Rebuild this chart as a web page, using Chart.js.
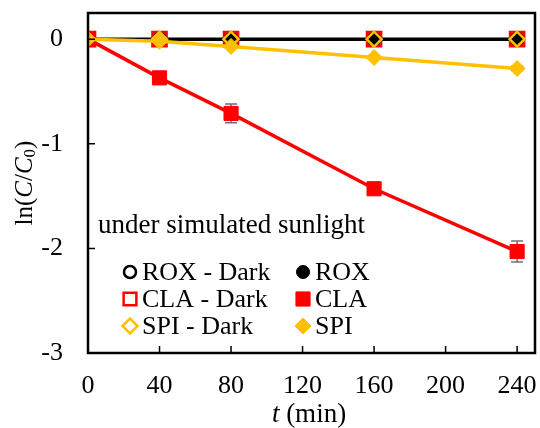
<!DOCTYPE html>
<html>
<head>
<meta charset="utf-8">
<script src="https://cdn.jsdelivr.net/npm/chart.js@4/dist/chart.umd.min.js"></script>
<style>
  html, body { margin: 0; padding: 0; background: #fff; }
  #wrap { width: 540px; height: 428px; }
</style>
</head>
<body>
<div id="wrap"><canvas id="c" width="540" height="428"></canvas></div>
<script>
// ── Data ──────────────────────────────────────────────────────────────────────
const times       = [0, 40, 80, 160, 240];
const roxDark     = [0, 0, 0, 0, 0];
const roxLight    = [0, 0, 0, 0, 0];
const claDark     = [0, 0, 0, 0, 0];
const claLight    = [0, -0.37, -0.71, -1.43, -2.03];
const claLightErr = [0, 0.02, 0.09, 0.05, 0.10];
const spiDark     = [0, 0, 0, 0, 0];
const spiLight    = [0, -0.02, -0.07, -0.175, -0.28];
const spiLightErr = [0, 0.01, 0.01, 0.01, 0.02];

const xTicks = [0, 40, 80, 120, 160, 200, 240];
const yTicks = [-3, -2, -1, 0];

const RED = '#ff0000', YEL = '#ffc000', BLK = '#000000';
const SERIF = "'Liberation Serif', 'Times New Roman', serif";

Chart.defaults.font.family = SERIF;
Chart.defaults.color = '#000';

const pts = arr => arr.map((v, i) => ({ x: times[i], y: v }));

// ── Plugin: error bars, frame, inward ticks, titles, legend ──────────────────
const decor = {
  id: 'decor',
  beforeDatasetsDraw(chart) {
    const { ctx, scales: { x, y } } = chart;
    ctx.save();
    ctx.strokeStyle = '#707070';
    ctx.lineWidth = 1.5;
    [[claLight, claLightErr], [spiLight, spiLightErr]].forEach(([vals, errs]) => {
      vals.forEach((v, i) => {
        if (!errs[i]) return;
        const px = x.getPixelForValue(times[i]);
        const top = y.getPixelForValue(v + errs[i]);
        const bot = y.getPixelForValue(v - errs[i]);
        ctx.beginPath();
        ctx.moveTo(px, top); ctx.lineTo(px, bot);
        ctx.moveTo(px - 6, top); ctx.lineTo(px + 6, top);
        ctx.moveTo(px - 6, bot); ctx.lineTo(px + 6, bot);
        ctx.stroke();
      });
    });
    ctx.restore();
  },
  afterDraw(chart) {
    const { ctx, chartArea: a, scales: { x, y } } = chart;
    ctx.save();
    // frame
    ctx.strokeStyle = '#000';
    ctx.lineWidth = 2.5;
    ctx.strokeRect(a.left, a.top, a.right - a.left, a.bottom - a.top);
    // inward tick marks
    ctx.lineWidth = 1.5;
    ctx.beginPath();
    xTicks.forEach(t => {
      const px = x.getPixelForValue(t);
      ctx.moveTo(px, a.bottom); ctx.lineTo(px, a.bottom - 7);
    });
    yTicks.forEach(t => {
      const py = y.getPixelForValue(t);
      ctx.moveTo(a.left, py); ctx.lineTo(a.left + 7, py);
    });
    ctx.stroke();

    ctx.fillStyle = '#000';
    ctx.textBaseline = 'middle';

    // x title: t (min)
    const f = `27px ${SERIF}`, fi = `italic 27px ${SERIF}`;
    ctx.font = fi; const wt = ctx.measureText('t').width;
    ctx.font = f;  const wr = ctx.measureText(' (min)').width;
    let sx = 309 - (wt + wr) / 2;
    ctx.textAlign = 'left';
    ctx.font = fi; ctx.fillText('t', sx, 415);
    ctx.font = f;  ctx.fillText(' (min)', sx + wt, 415);

    // y title: ln(C/C0)
    const g = `25px ${SERIF}`, gi = `italic 25px ${SERIF}`;
    const parts = [
      ['ln(', g, 0], ['C', gi, 0], ['/', g, 0], ['C', gi, 0],
      ['0', `17px ${SERIF}`, 6], [')', g, 0],
    ];
    let total = 0;
    parts.forEach(p => { ctx.font = p[1]; total += ctx.measureText(p[0]).width; });
    ctx.translate(25, 183);
    ctx.rotate(-Math.PI / 2);
    let ox = -total / 2;
    parts.forEach(p => {
      ctx.font = p[1];
      ctx.fillText(p[0], ox, p[2]);
      ox += ctx.measureText(p[0]).width;
    });
    ctx.setTransform(1, 0, 0, 1, 0, 0);

    // annotation + legend
    ctx.font = f;
    ctx.fillText('under simulated sunlight', 98, 226);

    const entries = [
      ['ROX - Dark', 130, 272, { pointStyle: 'circle', radius: 6, borderWidth: 2.5, borderColor: BLK, backgroundColor: '#fff' }],
      ['ROX',        303, 272, { pointStyle: 'circle', radius: 6.5, borderWidth: 1, borderColor: BLK, backgroundColor: BLK }],
      ['CLA - Dark', 130, 299, { pointStyle: 'rect', radius: 9, borderWidth: 2.5, borderColor: RED, backgroundColor: '#fff' }],
      ['CLA',        303, 299, { pointStyle: 'rect', radius: 10, borderWidth: 1, borderColor: RED, backgroundColor: RED }],
      ['SPI - Dark', 130, 326, { pointStyle: 'rectRot', radius: 7.5, borderWidth: 2.5, borderColor: YEL, backgroundColor: '#fff' }],
      ['SPI',        303, 326, { pointStyle: 'rectRot', radius: 8, borderWidth: 1, borderColor: YEL, backgroundColor: YEL }],
    ];
    entries.forEach(([label, mx, my, opts]) => {
      ctx.fillStyle = opts.backgroundColor;
      ctx.strokeStyle = opts.borderColor;
      ctx.lineWidth = opts.borderWidth;
      Chart.helpers.drawPoint(ctx, { ...opts, rotation: 0 }, mx, my);
      ctx.fillStyle = '#000';
      ctx.font = `26px ${SERIF}`;
      ctx.fillText(label, mx + 12, my + 1);
    });
    ctx.restore();
  },
};

// ── Chart ─────────────────────────────────────────────────────────────────────
new Chart(document.getElementById('c'), {
  type: 'scatter',
  plugins: [decor],
  data: {
    datasets: [
      { label: 'SPI', data: pts(spiLight), order: 0, showLine: true,
        borderColor: YEL, borderWidth: 3.5, pointStyle: 'rectRot', pointRadius: 8,
        pointBackgroundColor: YEL, pointBorderColor: YEL, pointBorderWidth: 1 },
      { label: 'CLA', data: pts(claLight), order: 1, showLine: true,
        borderColor: RED, borderWidth: 3.5, pointStyle: 'rect', pointRadius: 10,
        pointBackgroundColor: RED, pointBorderColor: RED, pointBorderWidth: 1 },
      { label: 'SPI - Dark', data: pts(spiDark), order: 2, showLine: false,
        pointStyle: 'rectRot', pointRadius: 7.5,
        pointBackgroundColor: 'rgba(0,0,0,0)', pointBorderColor: YEL, pointBorderWidth: 2.5 },
      { label: 'ROX', data: pts(roxLight), order: 3, showLine: true,
        borderColor: BLK, borderWidth: 3.5, pointStyle: 'circle', pointRadius: 6.5,
        pointBackgroundColor: BLK, pointBorderColor: BLK, pointBorderWidth: 1 },
      { label: 'ROX - Dark', data: pts(roxDark), order: 4, showLine: false,
        pointStyle: 'circle', pointRadius: 6,
        pointBackgroundColor: 'rgba(0,0,0,0)', pointBorderColor: BLK, pointBorderWidth: 2.5 },
      { label: 'CLA - Dark', data: pts(claDark), order: 5, showLine: false,
        pointStyle: 'rect', pointRadius: 10,
        pointBackgroundColor: RED, pointBorderColor: RED, pointBorderWidth: 2.5 },
    ],
  },
  options: {
    responsive: false,
    animation: false,
    layout: { autoPadding: false, padding: { top: 13, right: 5, left: 0, bottom: 0 } },
    scales: {
      x: {
        type: 'linear', min: 0, max: 250,
        grid: { display: false, drawTicks: false },
        border: { display: false },
        afterFit: s => { s.height = 75; s.paddingLeft = 0; s.paddingRight = 0; },
        ticks: { stepSize: 40, includeBounds: false, padding: 18, color: '#000',
                 font: { family: SERIF, size: 26 }, maxRotation: 0 },
      },
      y: {
        min: -3, max: 0.25,
        grid: { display: false, drawTicks: false },
        border: { display: false },
        afterFit: s => { s.width = 88; s.paddingTop = 0; s.paddingBottom = 0; },
        ticks: { stepSize: 1, includeBounds: false, padding: 25, color: '#000',
                 font: { family: SERIF, size: 26 } },
      },
    },
    plugins: { legend: { display: false }, tooltip: { enabled: false } },
  },
});
</script>
</body>
</html>
